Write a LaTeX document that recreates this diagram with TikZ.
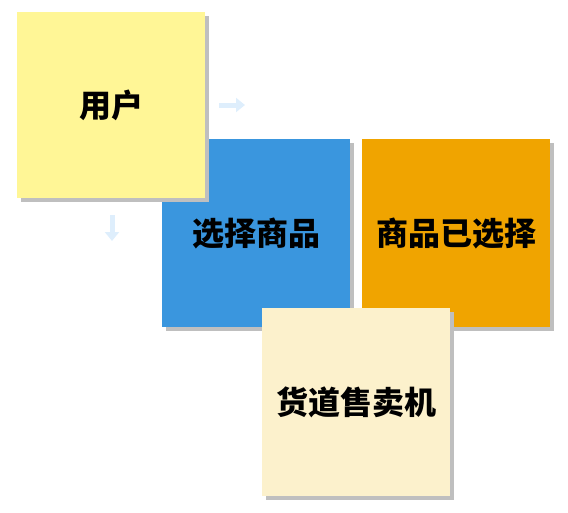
\documentclass[tikz,border=0pt]{standalone}
\usepackage{xcolor}
\usepackage{fontspec}
\usepackage{tikz}
\usetikzlibrary{positioning, arrows.meta, shadows}
\newfontfamily\cjk{Noto Sans CJK SC}
\definecolor{noteyellow}{RGB}{255,246,150}
\definecolor{noteblue}{RGB}{58,150,222}
\definecolor{noteorange}{RGB}{240,164,0}
\definecolor{notecream}{RGB}{252,241,204}
\definecolor{hintblue}{RGB}{222,238,252}

\begin{document}
\begin{tikzpicture}[x=1pt, y=-1pt,
    note/.style={minimum size=188pt, inner sep=0pt, anchor=north west,
        font=\cjk\bfseries\fontsize{32}{38}\selectfont,
        general shadow={fill=black!25, shadow xshift=4pt, shadow yshift=-4pt}},
    hint/.style={-{Triangle[length=9pt, width=14pt]}, line width=5pt, hintblue}]
    \useasboundingbox (0,0) rectangle (568,512);

    % Notes
    \node[note, fill=noteblue] (pick) at (162,139) {选择商品};
    \node[note, fill=noteorange] (picked) at (362,139) {商品已选择};
    \node[note, fill=noteyellow, minimum height=186pt] (user) at (17,12) {用户};
    \node[note, fill=notecream] (machine) at (262,308) {货道售卖机};

    % Faint hints
    \coordinate (r1) at (219,105);
    \coordinate (r2) at (245,105);
    \coordinate (d1) at (112,215);
    \coordinate (d2) at (112,241);
    \draw[hint] (r1) -- (r2);
    \draw[hint] (d1) -- (d2);
\end{tikzpicture}
\end{document}
